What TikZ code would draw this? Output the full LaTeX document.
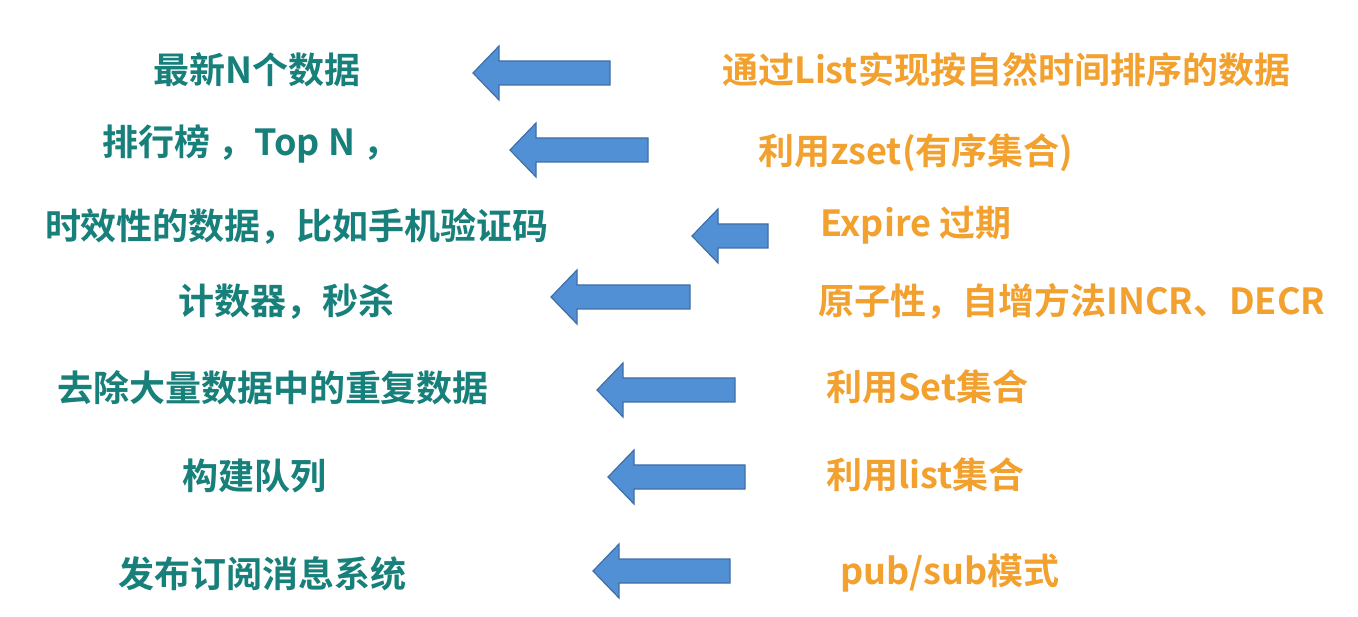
\documentclass[tikz,border=0pt]{standalone}
\usepackage{fontspec}
\newfontfamily\cjkb{Noto Sans CJK SC Bold}
\definecolor{tealtxt}{HTML}{17807A}
\definecolor{orangetxt}{HTML}{F2A02E}
\definecolor{arrowfill}{HTML}{5290D6}
\definecolor{arrowline}{HTML}{3F6FA6}
\usetikzlibrary{calc}
\tikzset{
  lefttxt/.style={inner sep=0pt, text=tealtxt, font=\cjkb\fontsize{36}{42}\selectfont},
  righttxt/.style={inner sep=0pt, text=orangetxt, font=\cjkb\fontsize{36}{42}\selectfont, anchor=west},
  barrow/.style={fill=arrowfill, draw=arrowline, line width=1.2pt, line join=miter}
}
% tip x, end x, y, name
\newcommand\bluearrow[4]{%
  \coordinate (#4) at (#1,#3);
  \draw[barrow] (#4) -- ++(26,-27) -- ++(0,15) -- (#2,#3-12) -- (#2,#3+12) -- ($(#4)+(26,12)$) -- ++(0,15) -- cycle;
}
\begin{document}
\begin{tikzpicture}[x=1pt,y=-1pt]
\useasboundingbox[fill=white] (0,0) rectangle (1358,617);
% left texts
\node[lefttxt] (l1) at (257,70) {最新N个数据};
\node[lefttxt] (l2) at (251,144) {排行榜 ，Top N ，};
\node[lefttxt] (l3) at (297,226) {时效性的数据，比如手机验证码};
\node[lefttxt] (l4) at (286,302) {计数器，秒杀};
\node[lefttxt] (l5) at (273,388) {去除大量数据中的重复数据};
\node[lefttxt] (l6) at (254,476) {构建队列};
\node[lefttxt] (l7) at (262,574) {发布订阅消息系统};
% arrows
\bluearrow{473}{610}{73}{a1}
\bluearrow{510}{648}{150}{a2}
\bluearrow{692}{768}{236}{a3}
\bluearrow{551}{690}{297}{a4}
\bluearrow{597}{735}{390}{a5}
\bluearrow{608}{745}{477}{a6}
\bluearrow{593}{730}{571}{a7}
% right texts
\node[righttxt] (r1) at (722,70) {通过List实现按自然时间排序的数据};
\node[righttxt] (r2) at (758,153) {利用zset(有序集合)};
\node[righttxt] (r3) at (820,225) {Expire 过期};
\node[righttxt] (r4) at (818,301) {原子性，自增方法INCR、DECR};
\node[righttxt] (r5) at (826,387) {利用Set集合};
\node[righttxt] (r6) at (826,475) {利用list集合};
\node[righttxt] (r7) at (840,573) {pub/sub模式};
\end{tikzpicture}
\end{document}
